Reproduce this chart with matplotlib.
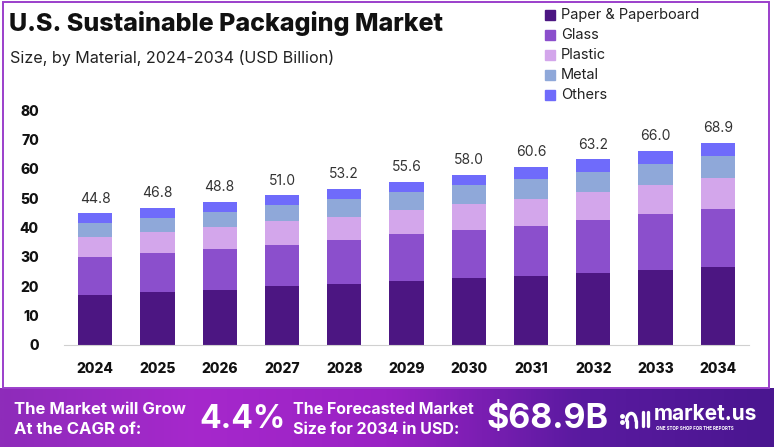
import numpy as np
import matplotlib
matplotlib.use("Agg")
import matplotlib.pyplot as plt
from matplotlib.colors import LinearSegmentedColormap
from matplotlib.patches import Rectangle

plt.rcParams['font.family'] = ['Inter', 'DejaVu Sans']

years = ["2024", "2025", "2026", "2027", "2028", "2029", "2030", "2031", "2032", "2033", "2034"]
paper = [17.0, 18.1, 18.8, 20.0, 20.6, 21.7, 22.8, 23.5, 24.4, 25.6, 26.7]
glass = [12.9, 13.3, 14.0, 14.2, 15.2, 16.0, 16.3, 17.1, 18.2, 19.0, 19.7]
plastic = [6.8, 7.0, 7.3, 7.9, 7.9, 8.3, 8.9, 9.2, 9.5, 10.0, 10.4]
metal = [5.0, 5.0, 5.3, 5.5, 6.1, 6.2, 6.5, 6.8, 6.9, 7.1, 7.6]
others = [3.1, 3.4, 3.4, 3.4, 3.4, 3.4, 3.5, 4.0, 4.2, 4.3, 4.5]
totals = [44.8, 46.8, 48.8, 51.0, 53.2, 55.6, 58.0, 60.6, 63.2, 66.0, 68.9]

series = [
    ("Paper & Paperboard", paper, "#4c1682"),
    ("Glass", glass, "#8b4fcc"),
    ("Plastic", plastic, "#d3a6eb"),
    ("Metal", metal, "#8fa8d9"),
    ("Others", others, "#6f6bfb"),
]

fig = plt.figure(figsize=(7.74, 4.47), dpi=100)
W, H = 774, 447

# chart area
ax = fig.add_axes([64 / W, 1 - 345 / H, 685 / W, 235 / H])
x = np.arange(len(years))
bottom = np.zeros(len(years))
for name, vals, col in series:
    ax.bar(x, vals, 0.55, bottom=bottom, color=col, label=name, zorder=2)
    bottom += np.array(vals)

for i, t in enumerate(totals):
    ax.text(i, t + 2.6, f"{t:.1f}", ha="center", va="bottom", fontsize=10, color="#333333")

ax.set_xlim(-0.5, 10.5)
ax.set_ylim(0, 80)
ax.set_yticks(range(0, 81, 10))
ax.set_xticks(x)
ax.set_xticklabels(years)
for s in ["top", "right", "left"]:
    ax.spines[s].set_visible(False)
ax.spines["bottom"].set_color("#d0d0d0")
ax.tick_params(axis="both", length=0, labelsize=10)
ax.tick_params(axis="y", pad=18)
ax.tick_params(axis="x", pad=12)
for lab in ax.get_xticklabels() + ax.get_yticklabels():
    lab.set_fontweight("heavy")
    lab.set_color("#111111")

# titles
fig.text(9 / W, 1 - 23 / H, "U.S. Sustainable Packaging Market", fontsize=18,
         fontweight="heavy", color="#111111", va="center", ha="left")
fig.text(10 / W, 1 - 58 / H, "Size, by Material, 2024-2034 (USD Billion)", fontsize=11.6,
         color="#222222", va="center", ha="left")

# legend
for k, (name, vals, col) in enumerate(series):
    yc = 1 - (15 + 20 * k) / H
    fig.patches.append(Rectangle((545 / W, yc - 5 / H), 10 / W, 10 / H,
                                 transform=fig.transFigure, color=col))
    fig.text(561 / W, yc, name, fontsize=10.5, color="#222222", va="center", ha="left")

# border
fig.patches.append(Rectangle((3 / W, 59 / H), 766 / W, 386 / H,
                             transform=fig.transFigure, fill=False,
                             edgecolor="#9b3fcb", linewidth=1.4))

# banner
bax = fig.add_axes([0, 0, 1, 59 / H])
cmap = LinearSegmentedColormap.from_list("band", ["#8e2cba", "#a628cc", "#9a22c4", "#5a1aa0", "#4a1690"])
grad = np.linspace(0, 1, 300).reshape(1, -1)
bax.imshow(grad, aspect="auto", cmap=cmap, extent=[0, 1, 0, 1])
bax.set_xlim(0, 1)
bax.set_ylim(0, 1)
bax.axis("off")

fig.text(14 / W, 1 - 409 / H, "The Market will Grow", fontsize=12, fontweight="bold",
         color="white", va="center")
fig.text(14 / W, 1 - 429 / H, "At the CAGR of:", fontsize=12, fontweight="bold",
         color="white", va="center")
fig.text(199 / W, 1 - 419 / H, "4.4%", fontsize=23, fontweight="bold",
         color="white", va="center")
fig.text(293 / W, 1 - 409 / H, "The Forecasted Market", fontsize=11.5, fontweight="bold",
         color="white", va="center")
fig.text(293 / W, 1 - 429 / H, "Size for 2034 in USD:", fontsize=11.5, fontweight="bold",
         color="white", va="center")
fig.text(486 / W, 1 - 419 / H, "$68.9B", fontsize=24.5, fontweight="bold",
         color="white", va="center")

# logo
lax = fig.add_axes([619 / W, 1 - 430 / H, 32 / W, 24 / H])
lax.set_xlim(0, 34)
lax.set_ylim(0, 26)
lax.axis("off")
lax.plot([3, 3], [15, 9], "o", color="white", markersize=2.5)
t = np.linspace(0, np.pi, 40)
lax.plot(13 + 5 * np.cos(t), 10 + 8 * np.sin(t), color="white", linewidth=2.4, solid_capstyle="round")
lax.plot([8, 8], [10, 3], color="white", linewidth=2.4, solid_capstyle="round")
lax.plot([18, 18], [10, 3], color="white", linewidth=2.4, solid_capstyle="round")
lax.plot([25, 25], [4, 20], color="white", linewidth=2.4, solid_capstyle="round")
lax.plot([31, 31], [4, 20], color="white", linewidth=2.4, solid_capstyle="round")

fig.text(654 / W, 1 - 414 / H, "market.us", fontsize=15, fontweight="bold",
         color="white", va="center")
fig.text(656 / W, 1 - 429 / H, "ONE STOP SHOP FOR THE REPORTS", fontsize=3.2,
         fontweight="bold", color="white", va="center")

fig.savefig("out.png", dpi=100)
